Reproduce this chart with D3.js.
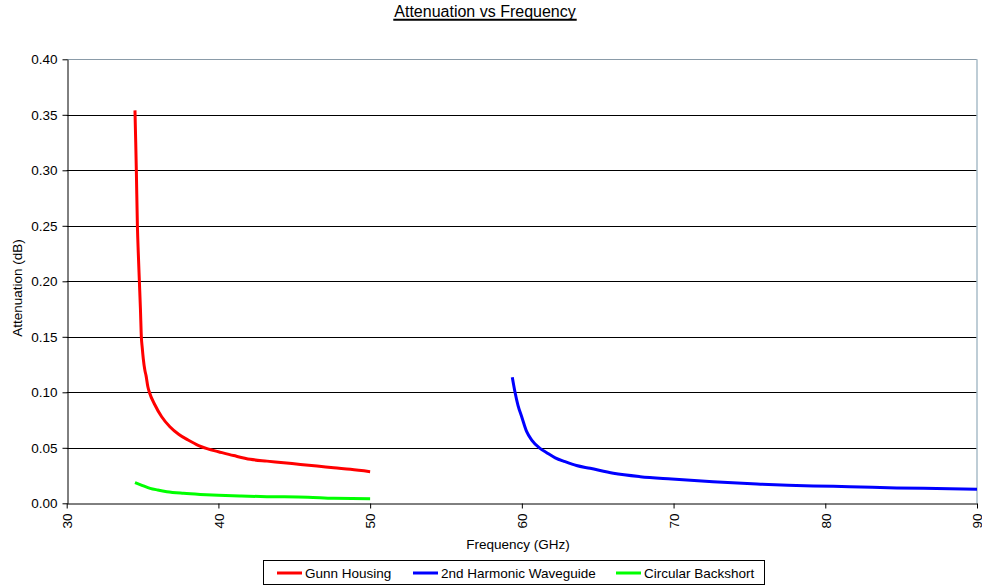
<!DOCTYPE html>
<html><head><meta charset="utf-8">
<script src="https://cdn.jsdelivr.net/npm/d3@7"></script>
<style>body{margin:0;background:#fff;}text{font-family:"Liberation Sans",Arial,sans-serif;}</style>
</head><body><svg id="c" width="982" height="588"></svg>
<script>
const title = "Attenuation vs Frequency";
const xTitle = "Frequency (GHz)";
const yTitle = "Attenuation (dB)";
const xTicks = [30,40,50,60,70,80,90];
const yTicks = [0,0.05,0.10,0.15,0.20,0.25,0.30,0.35,0.40];
const seriesNames = ["Gunn Housing","2nd Harmonic Waveguide","Circular Backshort"];
const seriesColors = ["#ff0000","#0000ff","#00ff00"];

const gunnFreq = [34.50,34.55,34.59,34.66,34.72,34.79,34.86,34.92,34.98,35.05,35.15,35.23,35.35,35.45,35.8,36.26,36.8,37.4,38.0,38.7,39.3,40.0,41.0,42.1,43.2,44.3,45.4,46.5,47.6,48.7,50.0];
const gunnAtt  = [0.354,0.325,0.300,0.250,0.225,0.200,0.175,0.150,0.140,0.130,0.120,0.115,0.105,0.100,0.089,0.078,0.069,0.062,0.057,0.052,0.049,0.0465,0.043,0.0396,0.038,0.0366,0.035,0.0336,0.032,0.0306,0.0285];

const waveFreq = [59.37,59.55,59.75,59.99,60.32,60.65,61.2,61.64,62.2,62.85,63.6,64.5,66.03,67.8,69.88,72.6,75.5,79.2,81.6,84.7,88.2,90.0];
const waveAtt  = [0.1135,0.100,0.088,0.078,0.0645,0.057,0.0495,0.0456,0.041,0.0375,0.034,0.0315,0.027,0.024,0.0219,0.0195,0.0174,0.0156,0.015,0.0138,0.0132,0.0126];

const backFreq = [34.5,35.0,35.5,36.0,36.6,37.7,38.8,40.0,41.5,43.2,45.9,47.6,50.0];
const backAtt  = [0.0186,0.016,0.0135,0.012,0.0105,0.009,0.008,0.0072,0.0065,0.006,0.0055,0.0045,0.0042];

const L=66.7, R=977, T=59.3, B=503.3;
const FS = 13.5;
const svg = d3.select("#c");
const x = d3.scaleLinear().domain([30,90]).range([L,R]);
const y = d3.scaleLinear().domain([0,0.4]).range([B,T]);

// title
const tt = svg.append("text").attr("x",485).attr("y",17).attr("text-anchor","middle")
  .attr("font-size",16).attr("fill","#000").text(title);
const bb = tt.node().getBBox();
svg.append("line").attr("x1",bb.x-1).attr("x2",bb.x+bb.width+1).attr("y1",19.8).attr("y2",19.8)
  .attr("stroke","#000").attr("stroke-width",2);

// gridlines
svg.append("g").selectAll("line").data(yTicks.filter(d=>d>0 && d<0.4)).join("line")
  .attr("x1",L).attr("x2",R).attr("y1",d=>Math.round(y(d))+0.5).attr("y2",d=>Math.round(y(d))+0.5)
  .attr("stroke","#000").attr("stroke-width",1);
// plot border top/right
svg.append("line").attr("x1",L).attr("x2",R).attr("y1",Math.round(T)+0.5).attr("y2",Math.round(T)+0.5).attr("stroke","#8a9ba8");
svg.append("line").attr("x1",R).attr("x2",R).attr("y1",T).attr("y2",B).attr("stroke","#a9bcc8").attr("stroke-width",1.5);

// axes
const yAxis = d3.axisLeft(y).tickValues(yTicks).tickFormat(d3.format(".2f")).tickSize(5).tickSizeOuter(0);
const gy = svg.append("g").attr("transform",`translate(${Math.round(L)+0.5},0)`).call(yAxis);
gy.selectAll("text").attr("font-size",FS).attr("fill","#000").attr("dx","-2");
gy.selectAll("line,path").attr("stroke","#000");

const xAxis = d3.axisBottom(x).tickValues(xTicks).tickSize(5).tickSizeOuter(0);
const gx = svg.append("g").attr("transform",`translate(0,${Math.round(B)+0.5})`).call(xAxis);
gx.selectAll("line,path").attr("stroke","#000");
gx.selectAll("text").attr("font-size",FS).attr("fill","#000")
  .attr("transform","rotate(-90)").attr("text-anchor","end").attr("dy","0.35em").attr("x",-10).attr("y",0);

svg.append("text").attr("x",518).attr("y",548.5).attr("text-anchor","middle").attr("font-size",FS).attr("fill","#000").text(xTitle);
svg.append("text").attr("transform","translate(22,288) rotate(-90)").attr("text-anchor","middle").attr("font-size",FS).attr("fill","#000").text(yTitle);

// lines
const line = d3.line().x(d=>x(d[0])).y(d=>y(d[1])).curve(d3.curveMonotoneX);
const series = [
  d3.zip(gunnFreq,gunnAtt),
  d3.zip(waveFreq,waveAtt),
  d3.zip(backFreq,backAtt)
];
svg.append("g").selectAll("path").data(series).join("path")
  .attr("d",line).attr("fill","none").attr("stroke",(d,i)=>seriesColors[i]).attr("stroke-width",3)
  .attr("stroke-linejoin","round");

// legend
svg.append("rect").attr("x",263.5).attr("y",560.5).attr("width",501).attr("height",24).attr("fill","#fff").attr("stroke","#000").attr("stroke-width",1);
const legX = [277,413,616];
const lg = svg.append("g").selectAll("g").data(seriesNames).join("g").attr("transform",(d,i)=>`translate(${legX[i]},573)`);
lg.append("line").attr("x1",0).attr("x2",25).attr("stroke",(d,i)=>seriesColors[i]).attr("stroke-width",3);
lg.append("text").attr("x",28).attr("dy","0.35em").attr("font-size",FS).attr("fill","#000").text(d=>d);
</script></body></html>
